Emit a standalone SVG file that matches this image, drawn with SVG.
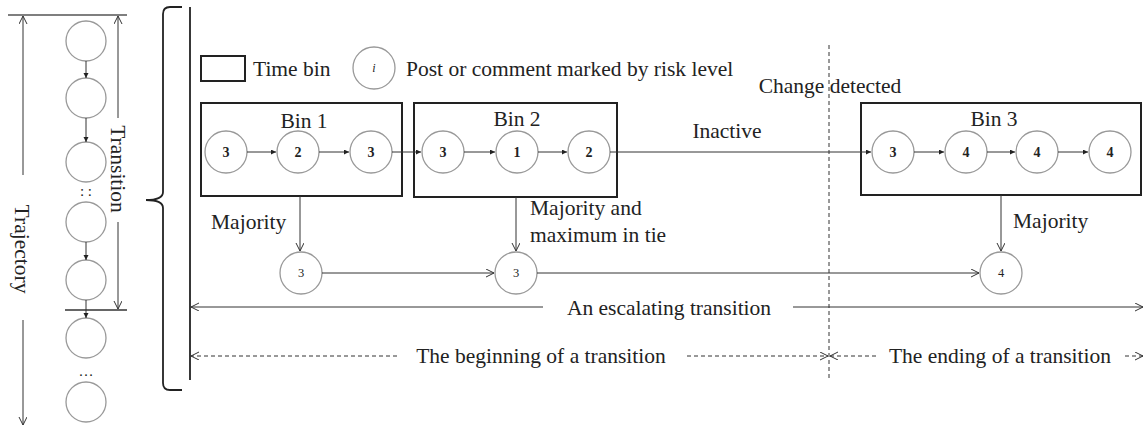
<svg xmlns="http://www.w3.org/2000/svg" width="1144" height="427" viewBox="0 0 1144 427">
<style>
text{font-family:"Liberation Serif","Times New Roman",serif;fill:#222}
.lbl{font-size:21.5px}
.num{font-size:14px;font-weight:bold;text-anchor:middle}
.sm{font-size:12.5px;text-anchor:middle}
.c{fill:#fff;stroke:#999;stroke-width:1.3}
.bin{fill:none;stroke:#222;stroke-width:2}
.ln{fill:none;stroke:#333;stroke-width:1}
.dash{fill:none;stroke:#333;stroke-width:1;stroke-dasharray:4 3}
</style>
<defs>
<marker id="open" markerUnits="userSpaceOnUse" markerWidth="10" markerHeight="10" refX="8" refY="4" orient="auto-start-reverse"><path d="M0,0 L8,4 L0,8" fill="none" stroke="#333" stroke-width="1"/></marker>
<marker id="tri" markerUnits="userSpaceOnUse" markerWidth="8" markerHeight="8" refX="5" refY="2.5" orient="auto"><path d="M0,0 L5,2.5 L0,5 Z" fill="#222"/></marker>
</defs>
<rect width="1144" height="427" fill="#fff"/>

<g id="left-panel">
<line x1="8" y1="15" x2="127" y2="15" stroke="#555" stroke-width="1.5"/>
<line x1="23" y1="175" x2="23" y2="16" class="ln" marker-end="url(#open)"/>
<text class="lbl" transform="translate(15,249) rotate(90)" text-anchor="middle">Trajectory</text>
<line x1="23" y1="320" x2="23" y2="425" class="ln" marker-end="url(#open)"/>
<line x1="118" y1="118" x2="118" y2="16" class="ln" marker-end="url(#open)"/>
<text class="lbl" transform="translate(111,169) rotate(90)" text-anchor="middle">Transition</text>
<line x1="118" y1="222" x2="118" y2="309" class="ln" marker-end="url(#open)"/>
<line x1="65" y1="310" x2="127" y2="310" stroke="#333" stroke-width="1.3"/>
<circle class="c" cx="86" cy="41" r="20"/>
<circle class="c" cx="86" cy="98" r="20"/>
<circle class="c" cx="86" cy="162" r="20"/>
<text x="86" y="196" font-size="15" text-anchor="middle">: :</text>
<circle class="c" cx="86" cy="222" r="20"/>
<circle class="c" cx="86" cy="280" r="20"/>
<circle class="c" cx="86" cy="338" r="20"/>
<text x="86" y="376" font-size="15" text-anchor="middle">…</text>
<circle class="c" cx="86" cy="402" r="20"/>
<line x1="86" y1="61" x2="86" y2="78" class="ln" marker-end="url(#tri)"/>
<line x1="86" y1="118" x2="86" y2="142" class="ln" marker-end="url(#tri)"/>
<line x1="86" y1="242" x2="86" y2="260" class="ln" marker-end="url(#tri)"/>
<line x1="86" y1="300" x2="86" y2="318" class="ln" marker-end="url(#tri)"/>
</g>

<g id="brace">
<path d="M182,7 L170,7 Q163,7 163,14 L163,192 Q163,200 146,200 Q163,200 163,208 L163,383 Q163,390 170,390 L182,390" fill="none" stroke="#222" stroke-width="1.8"/>
<line x1="190" y1="7" x2="190" y2="380" stroke="#222" stroke-width="1.8"/>
</g>

<g id="legend">
<rect class="bin" x="201" y="56" width="44" height="25"/>
<text class="lbl" x="253" y="76">Time bin</text>
<circle class="c" cx="374" cy="68" r="21"/>
<text x="374" y="72" font-size="12" font-style="italic" text-anchor="middle">i</text>
<text class="lbl" x="406" y="76">Post or comment marked by risk level</text>
</g>

<g id="bin1">
<rect class="bin" x="201" y="103" width="201" height="93"/>
<text class="lbl" x="304" y="128" text-anchor="middle">Bin 1</text>
<circle class="c" cx="226" cy="152" r="21"/><text class="num" x="226" y="157">3</text>
<circle class="c" cx="298" cy="152" r="21"/><text class="num" x="298" y="157">2</text>
<circle class="c" cx="371" cy="152" r="21"/><text class="num" x="371" y="157">3</text>
</g>

<g id="bin2">
<rect class="bin" x="414" y="103" width="203" height="94"/>
<text class="lbl" x="517" y="126" text-anchor="middle">Bin 2</text>
<circle class="c" cx="443" cy="152" r="21"/><text class="num" x="443" y="157">3</text>
<circle class="c" cx="517" cy="152" r="21"/><text class="num" x="517" y="157">1</text>
<circle class="c" cx="589" cy="152" r="21"/><text class="num" x="589" y="157">2</text>
</g>

<g id="bin3">
<rect class="bin" x="861" y="103" width="280" height="92"/>
<text class="lbl" x="994" y="126" text-anchor="middle">Bin 3</text>
<circle class="c" cx="893" cy="152" r="21"/><text class="num" x="893" y="157">3</text>
<circle class="c" cx="966" cy="152" r="21"/><text class="num" x="966" y="157">4</text>
<circle class="c" cx="1037" cy="152" r="21"/><text class="num" x="1037" y="157">4</text>
<circle class="c" cx="1110" cy="152" r="21"/><text class="num" x="1110" y="157">4</text>
</g>

<g id="summary">
<circle class="c" cx="301" cy="273" r="21"/><text class="sm" x="301" y="277">3</text>
<circle class="c" cx="516" cy="273" r="21"/><text class="sm" x="516" y="277">3</text>
<circle class="c" cx="1001" cy="273" r="21"/><text class="sm" x="1001" y="277">4</text>
</g>

<g id="labels">
<text class="lbl" x="727" y="138" text-anchor="middle">Inactive</text>
<text class="lbl" x="830" y="93" text-anchor="middle">Change detected</text>
<text class="lbl" x="211" y="229">Majority</text>
<text class="lbl" x="530" y="215">Majority and</text>
<text class="lbl" x="530" y="242">maximum in tie</text>
<text class="lbl" x="1013" y="228">Majority</text>
<text class="lbl" x="669" y="315" text-anchor="middle">An escalating transition</text>
<text class="lbl" x="541" y="363" text-anchor="middle">The beginning of a transition</text>
<text class="lbl" x="1000" y="363" text-anchor="middle">The ending of a transition</text>
</g>

<g id="connectors">
<line x1="247" y1="152" x2="276" y2="152" class="ln" marker-end="url(#tri)"/>
<line x1="319" y1="152" x2="349" y2="152" class="ln" marker-end="url(#tri)"/>
<line x1="392" y1="152" x2="421" y2="152" class="ln" marker-end="url(#tri)"/>
<line x1="464" y1="152" x2="495" y2="152" class="ln" marker-end="url(#tri)"/>
<line x1="538" y1="152" x2="567" y2="152" class="ln" marker-end="url(#tri)"/>
<line x1="610" y1="152" x2="871" y2="152" class="ln" marker-end="url(#tri)"/>
<line x1="914" y1="152" x2="944" y2="152" class="ln" marker-end="url(#tri)"/>
<line x1="987" y1="152" x2="1015" y2="152" class="ln" marker-end="url(#tri)"/>
<line x1="1058" y1="152" x2="1088" y2="152" class="ln" marker-end="url(#tri)"/>
<line x1="829" y1="45" x2="829" y2="378" class="dash" stroke-width="1.3"/>
<line x1="300" y1="196" x2="300" y2="251" class="ln" marker-end="url(#open)"/>
<line x1="516" y1="197" x2="516" y2="251" class="ln" marker-end="url(#open)"/>
<line x1="1001" y1="195" x2="1001" y2="251" class="ln" marker-end="url(#open)"/>
<line x1="322" y1="273" x2="494" y2="273" class="ln" marker-end="url(#open)"/>
<line x1="537" y1="273" x2="979" y2="273" class="ln" marker-end="url(#open)"/>
<line x1="543" y1="307" x2="191" y2="307" class="ln" marker-end="url(#open)"/>
<line x1="793" y1="307" x2="1143" y2="307" class="ln" marker-end="url(#open)"/>
<line x1="397" y1="356" x2="191" y2="356" class="dash" marker-end="url(#open)"/>
<line x1="687" y1="356" x2="828" y2="356" class="dash" marker-end="url(#open)"/>
<line x1="876" y1="356" x2="830" y2="356" class="dash" marker-end="url(#open)"/>
<line x1="1125" y1="356" x2="1143" y2="356" class="dash" marker-end="url(#open)"/>
</g>
</svg>
